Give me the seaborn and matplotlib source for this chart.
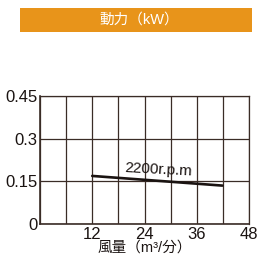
import matplotlib
matplotlib.use('Agg')
import matplotlib.pyplot as plt
import seaborn as sns
import pandas as pd

# data
airflow = [12, 41.9]
power = [0.169, 0.135]
series_label = '2200r.p.m'
xticks = [12, 24, 36, 48]
yticks = [0, 0.15, 0.3, 0.45]
ytick_labels = ['0', '0.15', '0.3', '0.45']
title = '動力（kW）'
xlabel = '風量（m³/分）'

sns.set_style('white')
plt.rcParams['font.family'] = ['Liberation Sans', 'Noto Sans CJK JP', 'DejaVu Sans']

df = pd.DataFrame({'airflow': airflow, 'power': power})

fig = plt.figure(figsize=(2.59, 2.58), dpi=100)
ax = fig.add_axes([40/259, 1-224/258, 209/259, 128/258])

sns.lineplot(data=df, x='airflow', y='power', ax=ax, color='#1a1311', linewidth=1.9)

ax.set_xlim(0, 48)
ax.set_ylim(0, 0.45)
ax.set_xticks(range(0, 49, 6), minor=True)
ax.set_xticks(xticks)
ax.set_yticks(yticks)
ax.set_yticklabels(ytick_labels)
ax.grid(True, which='both', color='#3a2c26', linewidth=0.9)
for s in ax.spines.values():
    s.set_color('#3a2c26')
    s.set_linewidth(0.9)
ax.spines['left'].set_linewidth(1.2)
ax.spines['bottom'].set_linewidth(1.2)
ax.tick_params(which='both', length=0, labelsize=12, colors='#1a1311', pad=2)
ax.set_xlabel('')
ax.set_ylabel('')
fig.text(145/259, 1-248/258, xlabel, fontsize=10.5, ha='center', va='center', color='#1a1311')

ax.text(27.1, 0.19, series_label, fontsize=11, rotation=-3, ha='center', va='center', color='#1a1311')

# orange title banner
fig.patches.append(plt.Rectangle((20/259, 1-32/258), 232/259, 24/258, transform=fig.transFigure,
                                 facecolor='#e8941a', edgecolor='none'))
fig.text(139/259, 1-20/258, title, color='white', fontsize=10.5, ha='center', va='center')

fig.savefig('out.png', dpi=100)
